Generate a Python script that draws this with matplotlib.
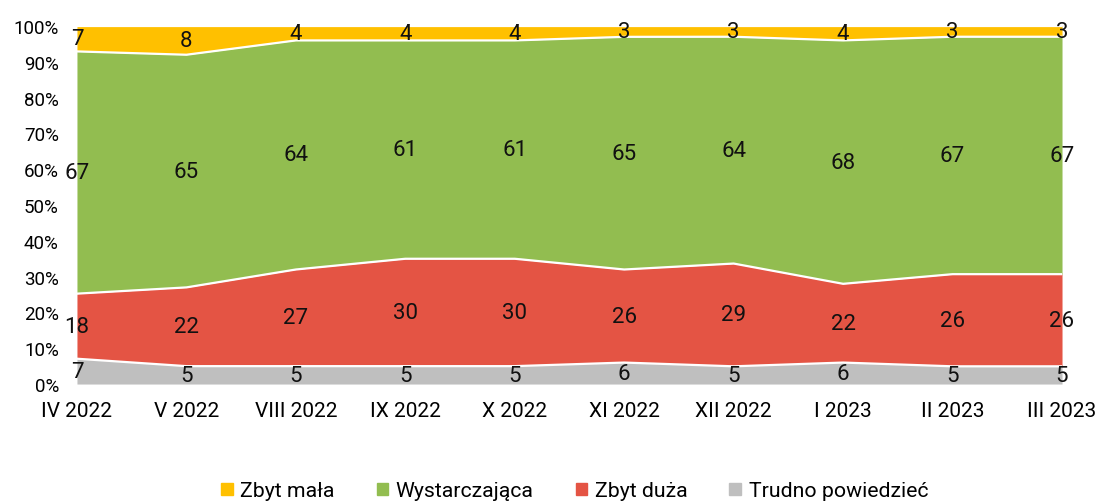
import matplotlib
matplotlib.use("Agg")
import matplotlib.pyplot as plt
import numpy as np
from matplotlib.patches import Patch

plt.rcParams["font.family"] = ["Roboto", "DejaVu Sans"]

months = ["IV 2022", "V 2022", "VIII 2022", "IX 2022", "X 2022",
          "XI 2022", "XII 2022", "I 2023", "II 2023", "III 2023"]
trudno = [7, 5, 5, 5, 5, 6, 5, 6, 5, 5]
zbyt_duza = [18, 22, 27, 30, 30, 26, 29, 22, 26, 26]
wystarczajaca = [67, 65, 64, 61, 61, 65, 64, 68, 67, 67]
zbyt_mala = [7, 8, 4, 4, 4, 3, 3, 4, 3, 3]

series = [
    ("Trudno powiedzieć", trudno, "#BFBFBF"),
    ("Zbyt duża", zbyt_duza, "#E45444"),
    ("Wystarczająca", wystarczajaca, "#92BD50"),
    ("Zbyt mała", zbyt_mala, "#FFC000"),
]

vals = np.array([s[1] for s in series], dtype=float)
shares = vals / vals.sum(axis=0) * 100
x = np.arange(len(months))

fig = plt.figure(figsize=(11.01, 5.02), dpi=100)
ax = fig.add_axes([0.0699, 0.233, 0.8947, 0.713])

bottom = np.zeros(len(months))
for (name, raw, color), share in zip(series, shares):
    top = bottom + share
    ax.fill_between(x, bottom, top, color=color, lw=0)
    ax.plot(x, top, color="white", lw=1.6)
    for xi, b, t, v in zip(x, bottom, top, raw):
        ax.text(xi, (b + t) / 2, str(v), ha="center", va="center",
                fontsize=16, color="#111111", clip_on=False)
    bottom = top

ax.set_xlim(0, len(months) - 1)
ax.set_ylim(0, 100)
ax.set_yticks(np.arange(0, 101, 10))
ax.set_yticklabels([f"{v}%" for v in range(0, 101, 10)], fontsize=13.5)
ax.set_xticks(x)
ax.set_xticklabels(months, fontsize=15)
ax.tick_params(axis="x", length=0, pad=12)
ax.tick_params(axis="y", length=0, pad=13)
for sp in ax.spines.values():
    sp.set_visible(False)

handles = [Patch(color=c, label=n) for n, _, c in reversed(series)]
fig.legend(handles=handles, loc="center", bbox_to_anchor=(0.5218, 0.02),
           ncol=4, frameon=False, fontsize=15.3, handlelength=0.55,
           handleheight=0.55, handletextpad=0.35, columnspacing=1.98,
           borderpad=0.1)

fig.savefig("out.png", dpi=100)
